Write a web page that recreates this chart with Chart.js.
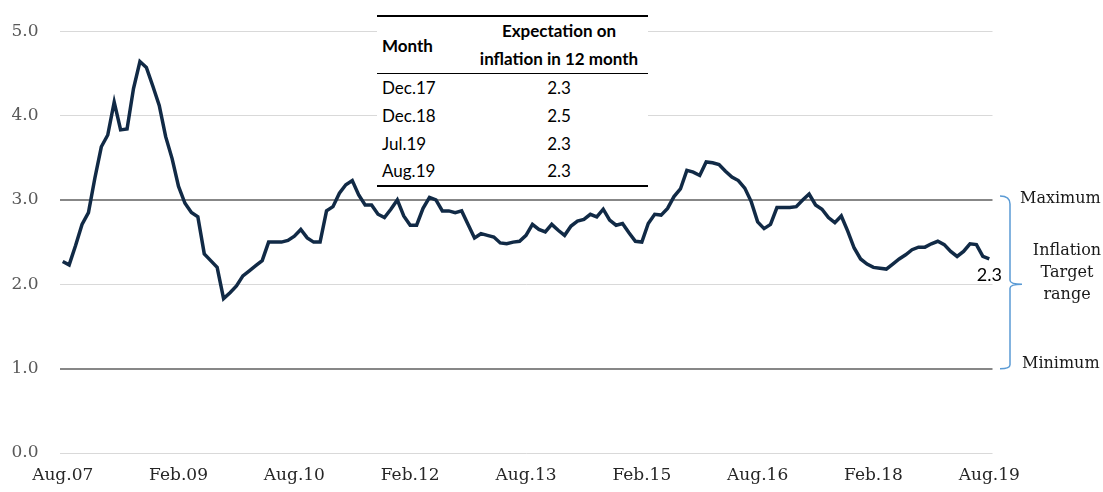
<!DOCTYPE html>
<html>
<head>
<meta charset="utf-8">
<script src="https://cdn.jsdelivr.net/npm/chart.js@4.4.1/dist/chart.umd.min.js"></script>
<style>
    body { margin: 0; background: #fff; }
    #wrap { position: relative; width: 1103px; height: 492px; }
    #expTable { position: absolute; left: 377px; top: 15px; width: 271px; background: #fff; }
    #expTable table { border-collapse: collapse; width: 100%; font-family: Lato, "Open Sans", sans-serif; font-size: 17px; color: #000; }
    #expTable th { font-weight: bold; height: 54px; border-top: 2px solid #000; border-bottom: 1.5px solid #000; padding: 0; vertical-align: middle; }
    #expTable td { height: 27.7px; padding: 0; }
    #expTable tr:last-child td { border-bottom: 2px solid #000; }
    .side { position: absolute; font-family: "DejaVu Serif", serif; font-size: 16px; color: #1a1a1a; white-space: nowrap; }
</style>
</head>
<body>
<div id="wrap">
    <canvas id="inflCanvas" width="1103" height="492"></canvas>
    <div id="expTable"></div>
    <div class="side" style="left:1020px; top:188px;">Maximum</div>
    <div class="side" style="left:1031px; top:239px; width:72px; text-align:center; line-height:22px;">Inflation<br>Target<br>range</div>
    <div class="side" style="left:1022px; top:353px;">Minimum</div>
</div>
<script>
// months Aug.07 .. Aug.19
const MONTHS = ['Jan', 'Feb', 'Mar', 'Apr', 'May', 'Jun', 'Jul', 'Aug', 'Sep', 'Oct', 'Nov', 'Dec'];
const START_MONTH = 7, START_YEAR = 7, N_MONTHS = 145;
const TICK_LABELS = ['Aug.07', 'Feb.09', 'Aug.10', 'Feb.12', 'Aug.13', 'Feb.15', 'Aug.16', 'Feb.18', 'Aug.19'];
const Y_TICKS = [0, 1, 2, 3, 4, 5];
const TARGET_MAX = 3, TARGET_MIN = 1;

const expectations = [
    2.27, 2.23, 2.46, 2.71, 2.85, 3.26, 3.63, 3.77, 4.16, 3.83, 3.84, 4.32,
    4.64, 4.57, 4.35, 4.12, 3.75, 3.49, 3.16, 2.96, 2.85, 2.80, 2.36, 2.28,
    2.20, 1.83, 1.90, 1.98, 2.10, 2.16, 2.22, 2.28, 2.50, 2.50, 2.50, 2.52,
    2.57, 2.65, 2.55, 2.50, 2.50, 2.87, 2.92, 3.08, 3.18, 3.23, 3.06, 2.94,
    2.94, 2.83, 2.79, 2.89, 3.00, 2.81, 2.70, 2.70, 2.90, 3.03, 3.00, 2.87,
    2.87, 2.85, 2.87, 2.71, 2.55, 2.60, 2.58, 2.56, 2.49, 2.48, 2.50, 2.51,
    2.58, 2.71, 2.65, 2.62, 2.71, 2.64, 2.58, 2.69, 2.75, 2.77, 2.83, 2.80,
    2.89, 2.76, 2.70, 2.72, 2.61, 2.51, 2.50, 2.72, 2.83, 2.82, 2.90, 3.04,
    3.13, 3.35, 3.33, 3.29, 3.45, 3.44, 3.42, 3.34, 3.27, 3.23, 3.14, 2.98,
    2.74, 2.66, 2.71, 2.91, 2.91, 2.91, 2.92, 3.00, 3.07, 2.94, 2.89, 2.79,
    2.73, 2.81, 2.63, 2.43, 2.30, 2.24, 2.20, 2.19, 2.18, 2.24, 2.30, 2.35,
    2.41, 2.44, 2.44, 2.48, 2.51, 2.47, 2.39, 2.33, 2.39, 2.48, 2.47, 2.33,
    2.30
];
const LAST_LABEL = '2.3';

const TABLE_MONTHS = ['Dec.17', 'Dec.18', 'Jul.19', 'Aug.19'];
const TABLE_VALUES = ['2.3', '2.5', '2.3', '2.3'];

let labels = [];
for (let k = 0; k < N_MONTHS; k++) {
    let m = (START_MONTH + k) % 12;
    let y = START_YEAR + Math.floor((START_MONTH + k) / 12);
    labels.push(MONTHS[m] + '.' + String(y).padStart(2, '0'));
}

let html = `<table>
    <thead><tr>
        <th style="width:88px; text-align:left; padding-left:5px;">Month</th>
        <th style="text-align:center; line-height:28px;">Expectation on<br>inflation in 12 month</th>
    </tr></thead><tbody>`;
TABLE_MONTHS.forEach((m, i) => {
    html += `<tr><td style="padding-left:5px;">${m}</td><td style="text-align:center;">${TABLE_VALUES[i]}</td></tr>`;
});
html += `</tbody></table>`;
document.getElementById('expTable').innerHTML = html;

// curly bracket for target range + end value label
const extrasPlugin = {
    id: 'extras',
    afterDatasetsDraw(chart) {
        const ctx = chart.ctx;
        const ys = chart.scales.y, xs = chart.scales.x;
        let last = expectations.length - 1;
        let px = xs.getPixelForValue(last), py = ys.getPixelForValue(expectations[last]);
        ctx.save();
        ctx.font = '18px Lato, sans-serif';
        ctx.fillStyle = '#000';
        ctx.textAlign = 'center';
        ctx.fillText(LAST_LABEL, px, py + 22);

        let yTop = ys.getPixelForValue(TARGET_MAX), yBot = ys.getPixelForValue(TARGET_MIN);
        let mid = (yTop + yBot) / 2;
        ctx.strokeStyle = '#5b9bd5';
        ctx.lineWidth = 1.5;
        ctx.beginPath();
        ctx.moveTo(1000, yTop - 4);
        ctx.quadraticCurveTo(1010, yTop - 4, 1010, yTop + 4);
        ctx.lineTo(1010, mid - 4);
        ctx.quadraticCurveTo(1010, mid, 1022, mid);
        ctx.quadraticCurveTo(1010, mid, 1010, mid + 4);
        ctx.lineTo(1010, yBot - 4);
        ctx.quadraticCurveTo(1010, yBot, 1000, yBot);
        ctx.stroke();
        ctx.restore();
    }
};

new Chart(document.getElementById('inflCanvas').getContext('2d'), {
    type: 'line',
    data: {
        labels: labels,
        datasets: [{
            data: expectations,
            borderColor: '#112a46',
            borderWidth: 3.5,
            pointRadius: 0,
            tension: 0,
            fill: false
        }]
    },
    options: {
        responsive: false,
        animation: false,
        devicePixelRatio: 1,
        layout: { padding: { top: 29.5, right: 110.5, bottom: 0, left: 0 } },
        plugins: { legend: { display: false }, tooltip: { enabled: false } },
        scales: {
            x: {
                offset: true,
                grid: { display: false, drawTicks: false },
                border: { display: false },
                ticks: {
                    autoSkip: false, maxRotation: 0, minRotation: 0, padding: 12,
                    color: '#262626',
                    font: { family: 'DejaVu Serif', size: 17 },
                    callback: function(v, i) { let l = this.getLabelForValue(v); return TICK_LABELS.includes(l) ? l : ''; }
                },
                afterFit: s => { s.height = 39; }
            },
            y: {
                min: Y_TICKS[0], max: Y_TICKS[Y_TICKS.length - 1],
                afterBuildTicks: s => { s.ticks = Y_TICKS.map(v => ({ value: v })); },
                grid: {
                    drawTicks: false,
                    color: c => (c.tick && (c.tick.value === TARGET_MAX || c.tick.value === TARGET_MIN)) ? '#878787' : '#d9d9d9',
                    lineWidth: c => (c.tick && (c.tick.value === TARGET_MAX || c.tick.value === TARGET_MIN)) ? 2 : 1
                },
                border: { display: false },
                ticks: {
                    padding: 21,
                    color: '#595959',
                    font: { family: 'DejaVu Serif', size: 17 },
                    callback: v => Number(v).toFixed(1)
                },
                afterFit: s => { s.width = 59.5; }
            }
        }
    },
    plugins: [extrasPlugin]
});
</script>
</body>
</html>
